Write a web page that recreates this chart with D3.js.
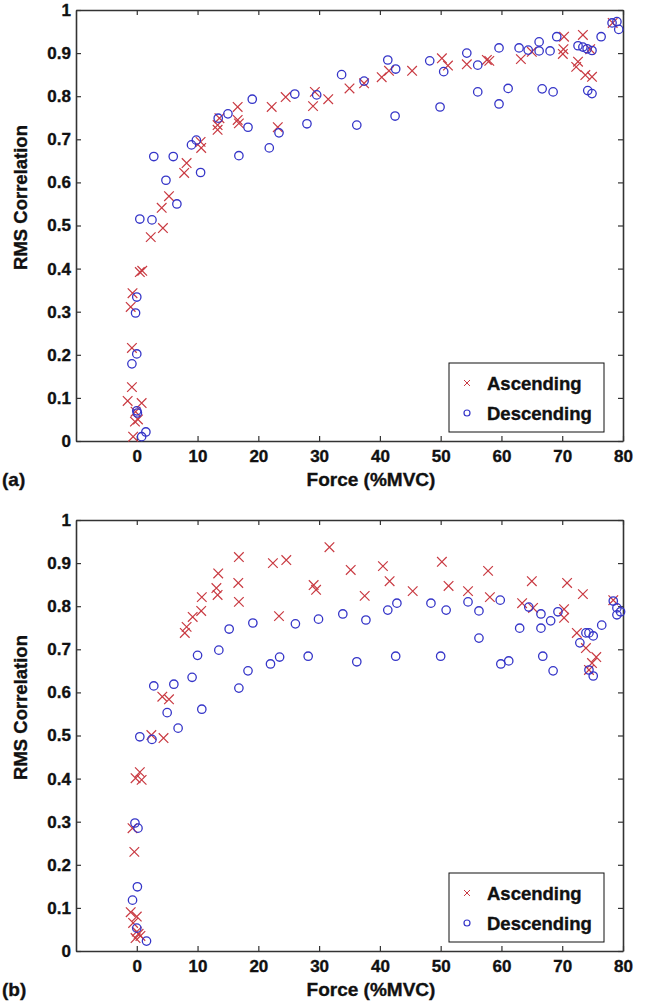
<!DOCTYPE html>
<html><head><meta charset="utf-8">
<script src="https://cdn.jsdelivr.net/npm/d3@7"></script>
<style>
html,body{margin:0;padding:0;background:#fff;}
text{font-family:Arial,"Liberation Sans",Helvetica,sans-serif !important;font-weight:700 !important;fill:#111;stroke:#111;stroke-width:0.35px;}
</style></head>
<body>
<svg id="chart" width="645" height="1004"></svg>
<script>
// ---------- DATA ----------
const xTicks = [0,10,20,30,40,50,60,70,80];
const yTicks = [0,0.1,0.2,0.3,0.4,0.5,0.6,0.7,0.8,0.9,1];
const xTitle = "Force (%MVC)";
const yTitle = "RMS Correlation";
const seriesNames = ["Ascending","Descending"];
const panelLabels = ["(a)","(b)"];

// Panel (a): [force, rms]
const ascendingA = [
 [-0.7,0.343],[-1,0.311],[0.5,0.392],[0.9,0.395],[-0.8,0.216],[-0.8,0.125],[-1.5,0.093],[0.8,0.088],
 [-0.2,0.068],[-0.3,0.045],[0.2,0.05],[-0.6,0.01],[2.3,0.473],[4.3,0.494],[4.1,0.541],[5.3,0.568],
 [7.8,0.622],[8.2,0.645],[10.5,0.694],[10.6,0.68],[13.3,0.722],[13.3,0.733],[13.6,0.749],
 [16.6,0.775],[16.6,0.745],[16.8,0.737],[22.2,0.775],[23.2,0.728],[24.5,0.798],[29,0.777],
 [29.3,0.81],[31.5,0.793],[35,0.818],[37.4,0.83],[40.3,0.844],[41.5,0.859],[45.3,0.859],
 [50.2,0.888],[51.2,0.871],[54.3,0.874],[57.6,0.884],[58,0.882],[63.2,0.886],[65,0.903],
 [70.3,0.938],[70.2,0.909],[70.1,0.898],[73.4,0.942],[72.6,0.88],[72.3,0.868],[73.8,0.849],
 [74.9,0.845],[74.6,0.909],[78.3,0.97]
];
const descendingA = [
 [0,0.334],[-0.2,0.297],[0,0.202],[-0.8,0.179],[0,0.07],[0.1,0.065],[1.5,0.021],[0.8,0.01],
 [0.5,0.515],[2.5,0.513],[2.8,0.66],[6,0.66],[4.8,0.605],[6.6,0.55],[10.5,0.623],[9,0.687],
 [9.8,0.698],[13.4,0.749],[15,0.759],[18.3,0.728],[19,0.793],[16.8,0.662],[21.8,0.68],
 [23.4,0.715],[26,0.805],[28,0.736],[29.6,0.803],[33.7,0.85],[36.2,0.733],[37.4,0.835],
 [41.3,0.884],[42.6,0.863],[42.5,0.754],[48.2,0.882],[49.9,0.775],[50.5,0.857],[54.3,0.9],
 [56.1,0.81],[56.1,0.872],[59.6,0.912],[59.6,0.782],[61.1,0.818],[62.9,0.912],[64.4,0.907],
 [66.2,0.926],[66.2,0.905],[66.7,0.817],[68,0.905],[68.5,0.81],[69.1,0.938],[72.6,0.917],
 [73.4,0.914],[74.1,0.91],[74.9,0.906],[74.2,0.813],[74.9,0.806],[76.4,0.938],[78.2,0.97],
 [79,0.973],[79.3,0.955]
];

// Panel (b): [force, rms]
const ascendingB = [
 [0.5,0.415],[-0.2,0.401],[0.8,0.397],[-0.7,0.285],[-0.4,0.23],[-1,0.09],[0,0.08],[-0.6,0.065],
 [0,0.045],[0.3,0.04],[0.6,0.035],[-0.2,0.03],[2.4,0.501],[4.4,0.494],[4.2,0.59],[5.3,0.584],
 [7.9,0.738],[8.2,0.752],[9.2,0.775],[10.6,0.789],[10.7,0.821],[13.1,0.842],[13.4,0.876],
 [13.3,0.826],[16.8,0.914],[16.7,0.854],[16.8,0.81],[22.4,0.9],[23.4,0.777],[24.6,0.907],
 [29.1,0.849],[29.5,0.838],[31.7,0.937],[35.2,0.884],[37.5,0.824],[40.5,0.893],[41.6,0.858],
 [45.4,0.835],[50.2,0.903],[51.3,0.847],[54.5,0.835],[57.8,0.882],[58.1,0.821],[63.4,0.807],
 [65,0.858],[65.2,0.796],[70.8,0.854],[70.3,0.793],[70.3,0.773],[73.4,0.828],[72.4,0.738],
 [73.9,0.703],[75.6,0.682],[74.9,0.668],[74.4,0.652],[78.4,0.814]
];
const descendingB = [
 [-0.3,0.297],[0.2,0.285],[0.1,0.149],[-0.7,0.118],[0,0.053],[1.6,0.023],
 [0.5,0.497],[2.5,0.491],[2.8,0.615],[6.1,0.619],[5,0.553],[6.8,0.517],[9.1,0.635],[10,0.686],
 [10.7,0.561],[13.5,0.698],[15.2,0.747],[18.3,0.65],[16.8,0.61],[19.1,0.761],[22,0.666],
 [23.5,0.682],[26.1,0.759],[28.2,0.684],[29.9,0.77],[33.9,0.782],[36.2,0.671],[37.7,0.768],
 [41.3,0.791],[42.8,0.807],[42.6,0.684],[48.4,0.807],[50,0.684],[50.9,0.791],[54.5,0.81],
 [56.3,0.789],[56.3,0.726],[59.8,0.814],[59.9,0.666],[61.2,0.673],[63,0.749],[64.5,0.798],
 [66.5,0.782],[66.5,0.749],[66.8,0.684],[68.1,0.766],[68.5,0.65],[69.3,0.787],[72.9,0.715],
 [73.9,0.738],[74.4,0.738],[75.1,0.731],[74.4,0.652],[75.1,0.638],[76.5,0.756],[78.4,0.812],
 [79,0.78],[79,0.796],[79.6,0.787]
];

// ---------- DRAW ----------
const svg = d3.select("#chart");
const RED = "#c93a42", BLUE = "#3535c8";
const panels = [
  {top:10, bottom:441, asc:ascendingA, desc:descendingA, label:panelLabels[0]},
  {top:520, bottom:951, asc:ascendingB, desc:descendingB, label:panelLabels[1]}
];
const left = 76, right = 623;

function xMark(g, cx, cy, s, color, w){
  g.append("path")
   .attr("d", `M${cx-s},${cy-s}L${cx+s},${cy+s}M${cx-s},${cy+s}L${cx+s},${cy-s}`)
   .attr("stroke", color).attr("stroke-width", w).attr("fill","none");
}

panels.forEach(p => {
  const x = d3.scaleLinear().domain([-10,80]).range([left,right]);
  const y = d3.scaleLinear().domain([0,1]).range([p.bottom,p.top]);
  const g = svg.append("g");

  const axB = g.append("g").attr("transform",`translate(0,${p.bottom})`)
    .call(d3.axisBottom(x).tickValues(xTicks).tickSizeInner(-5).tickSizeOuter(0).tickPadding(9).tickFormat(d3.format("d")));
  const axT = g.append("g").attr("transform",`translate(0,${p.top})`)
    .call(d3.axisTop(x).tickValues(xTicks).tickSizeInner(-5).tickSizeOuter(0).tickFormat(""));
  const axL = g.append("g").attr("transform",`translate(${left},0)`)
    .call(d3.axisLeft(y).tickValues(yTicks).tickSizeInner(-5).tickSizeOuter(0).tickPadding(5).tickFormat(d => d===0?"0":d===1?"1":d3.format(".1f")(d)));
  const axR = g.append("g").attr("transform",`translate(${right},0)`)
    .call(d3.axisRight(y).tickValues(yTicks).tickSizeInner(-5).tickSizeOuter(0).tickFormat(""));
  [axB,axT,axL,axR].forEach(a=>{
    a.attr("font-family",null).attr("font-size",null);
    a.select(".domain").attr("stroke","#333").attr("stroke-width",1.6);
    a.selectAll(".tick line").attr("stroke","#333").attr("stroke-width",1.2);
    a.selectAll(".tick text").attr("font-size",17).attr("fill","#111");
  });

  const pts = g.append("g");
  p.asc.forEach(d => xMark(pts, x(d[0]), y(d[1]), 4.8, RED, 1.2));
  pts.selectAll("circle").data(p.desc).join("circle")
    .attr("cx", d=>x(d[0])).attr("cy", d=>y(d[1])).attr("r",4.2)
    .attr("fill","none").attr("stroke",BLUE).attr("stroke-width",1.3);

  g.append("text").attr("x",371).attr("y",p.bottom+45)
    .attr("text-anchor","middle").attr("font-size",19).text(xTitle);
  g.append("text").attr("transform",`translate(27,${(p.top+p.bottom)/2 - 28}) rotate(-90)`)
    .attr("text-anchor","middle").attr("font-size",18.5).text(yTitle);
  g.append("text").attr("x",2).attr("y",p.bottom+45).attr("font-size",19).text(p.label);

  const lg = g.append("g").attr("transform",`translate(449,${p.bottom-78})`);
  lg.append("rect").attr("width",155).attr("height",69).attr("fill","#fff").attr("stroke","#111").attr("stroke-width",1);
  xMark(lg, 18, 20, 3, RED, 1);
  lg.append("circle").attr("cx",18).attr("cy",50).attr("r",3).attr("fill","none").attr("stroke",BLUE).attr("stroke-width",1.2);
  lg.append("text").attr("x",38).attr("y",26.5).attr("font-size",18.5).text(seriesNames[0]);
  lg.append("text").attr("x",38).attr("y",56.5).attr("font-size",18.5).text(seriesNames[1]);
});
</script>
</body></html>
